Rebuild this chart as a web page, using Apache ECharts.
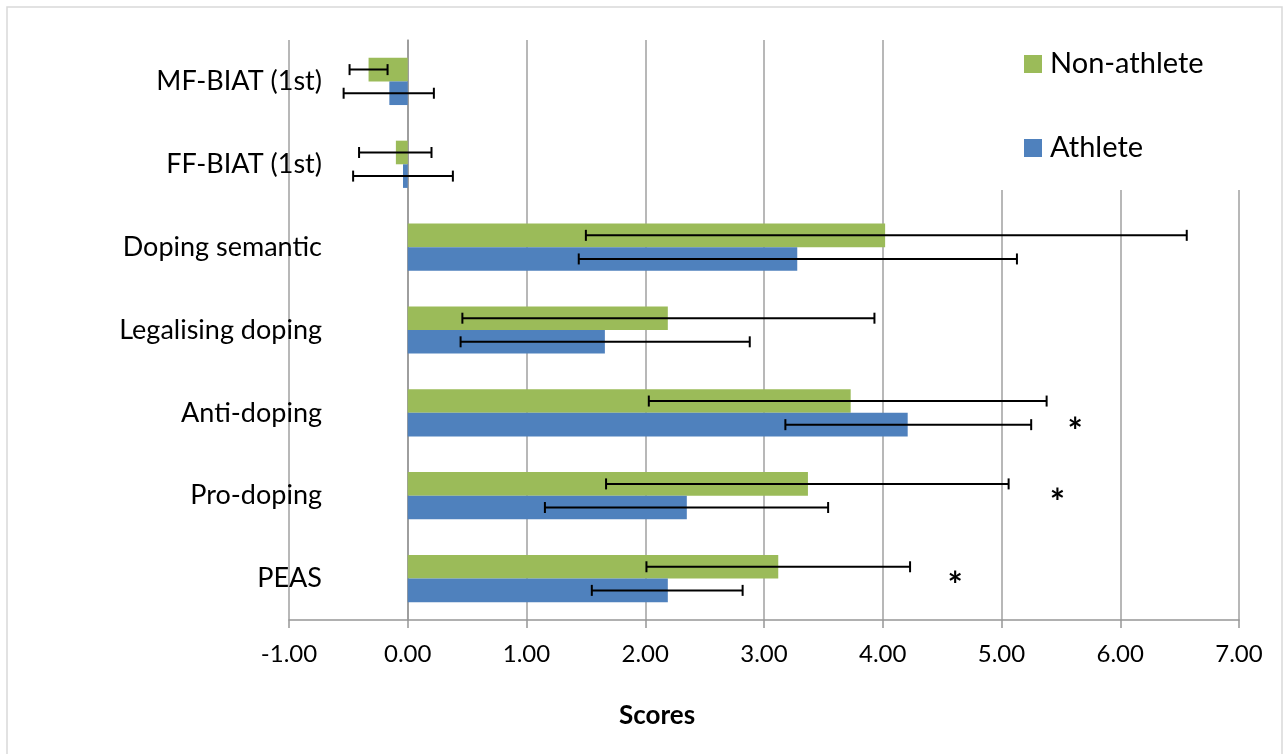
<!DOCTYPE html>
<html>
<head>
<meta charset="utf-8">
<script src="https://cdn.jsdelivr.net/npm/echarts@6/dist/echarts.min.js"></script>
<style>
html,body{margin:0;padding:0;background:#fff;}
#chart{width:1283px;height:754px;}
</style>
</head>
<body>
<div id="chart"></div>
<script>
// ---- data (bottom to top) ----
const categories = ['PEAS', 'Pro-doping', 'Anti-doping', 'Legalising doping', 'Doping semantic', 'FF-BIAT (1st)', 'MF-BIAT (1st)'];
const seriesNames = ['Non-athlete', 'Athlete'];
const nonAthlete     = [3.12, 3.37, 3.73, 2.19, 4.02, -0.10, -0.33];
const nonAthleteLow  = [2.01, 1.67, 2.03, 0.46, 1.50, -0.41, -0.49];
const nonAthleteHigh = [4.23, 5.06, 5.38, 3.93, 6.56, 0.20, -0.17];
const athlete        = [2.19, 2.35, 4.21, 1.66, 3.28, -0.04, -0.155];
const athleteLow     = [1.55, 1.155, 3.18, 0.445, 1.44, -0.46, -0.54];
const athleteHigh    = [2.82, 3.54, 5.25, 2.88, 5.13, 0.38, 0.22];
// significance markers
const starCats = ['Anti-doping', 'Pro-doping', 'PEAS'];
const starX    = [5.62, 5.47, 4.61];
const starRow  = ['Athlete', 'center', 'center'];
const xTicks = { min: -1, max: 7, interval: 1 };

const FONT = 'Lato';
const GREEN = '#9BBB59';
const BLUE = '#4F81BD';
const GAP = 0.43;

function errData(low, high) {
  return categories.map((c, i) => [i, low[i], high[i]]);
}
function errRender(sign) {
  return function (params, api) {
    const ci = api.value(0);
    const p1 = api.coord([api.value(1), ci]);
    const p2 = api.coord([api.value(2), ci]);
    const band = api.size([0, 1])[1];
    const y = p1[1] + sign * band * (1 - GAP) / 4;
    const cap = 5.5;
    const st = { stroke: '#000', lineWidth: 2 };
    return {
      type: 'group',
      children: [
        { type: 'line', shape: { x1: p1[0], y1: y, x2: p2[0], y2: y }, style: st },
        { type: 'line', shape: { x1: p1[0], y1: y - cap, x2: p1[0], y2: y + cap }, style: st },
        { type: 'line', shape: { x1: p2[0], y1: y - cap, x2: p2[0], y2: y + cap }, style: st }
      ]
    };
  };
}
const STAR_SIZE = 36;
function starRender(params, api) {
  const ci = api.value(1);
  const p = api.coord([api.value(0), ci]);
  const band = api.size([0, 1])[1];
  const row = starRow[params.dataIndex];
  const y = p[1] + (row === 'Athlete' ? band * (1 - GAP) / 4 : 0);
  return {
    type: 'text',
    style: { text: '*', x: p[0], y: y + STAR_SIZE * 0.22, align: 'center', verticalAlign: 'middle',
             font: 'bold ' + STAR_SIZE + 'px ' + FONT, fill: '#000' }
  };
}

const chart = echarts.init(document.getElementById('chart'), null, { renderer: 'canvas' });
chart.setOption({
  backgroundColor: '#fff',
  animation: false,
  title: {
    text: 'Scores', left: 614, top: 698,
    textStyle: { fontFamily: FONT, fontSize: 26, fontWeight: 'bold', color: '#000' }
  },
  legend: {
    data: seriesNames,
    orient: 'vertical',
    left: 990, top: 38,
    padding: [11, 40, 27, 34],
    backgroundColor: '#fff',
    itemWidth: 18, itemHeight: 18, itemGap: 54,
    icon: 'rect',
    textStyle: { fontFamily: FONT, fontSize: 29, color: '#000', lineHeight: 30, padding: [0, 0, 0, 3] }
  },
  grid: { left: 289, right: 44, top: 40, bottom: 134, containLabel: false },
  xAxis: {
    type: 'value', min: xTicks.min, max: xTicks.max, interval: xTicks.interval,
    axisLine: { show: true, onZero: false, lineStyle: { color: '#969696', width: 1.5 } },
    axisTick: { show: true, length: 8, lineStyle: { color: '#969696', width: 1.5 } },
    axisLabel: { fontFamily: FONT, fontSize: 24, color: '#000', margin: 22,
                 formatter: v => v.toFixed(2) },
    splitLine: { show: true, lineStyle: { color: '#a0a0a0', width: 1.5 } }
  },
  yAxis: {
    type: 'category', data: categories,
    axisLine: { show: true, onZero: true, lineStyle: { color: '#969696', width: 1.5 } },
    axisTick: { show: false },
    axisLabel: { fontFamily: FONT, fontSize: 27, color: '#000', margin: -33 },
    splitLine: { show: false }
  },
  series: [
    { name: 'Non-athlete', type: 'bar', data: nonAthlete, itemStyle: { color: GREEN },
      barGap: '0%', barCategoryGap: (GAP * 100) + '%', z: 2 },
    { name: 'Athlete', type: 'bar', data: athlete, itemStyle: { color: BLUE },
      barGap: '0%', barCategoryGap: (GAP * 100) + '%', z: 2 },
    { type: 'custom', renderItem: errRender(-1), data: errData(nonAthleteLow, nonAthleteHigh),
      encode: { y: 0, x: [1, 2] }, z: 5, silent: true },
    { type: 'custom', renderItem: errRender(1), data: errData(athleteLow, athleteHigh),
      encode: { y: 0, x: [1, 2] }, z: 5, silent: true },
    { type: 'custom', renderItem: starRender,
      data: starCats.map((c, i) => [starX[i], categories.indexOf(c)]),
      encode: { x: 0, y: 1 }, z: 5, silent: true }
  ],
  graphic: [
    { type: 'rect', shape: { x: 7, y: 7, width: 1275, height: 750 },
      style: { fill: 'none', stroke: '#d9d9d9', lineWidth: 1.5 }, z: 100, silent: true }
  ]
});
</script>
</body>
</html>
